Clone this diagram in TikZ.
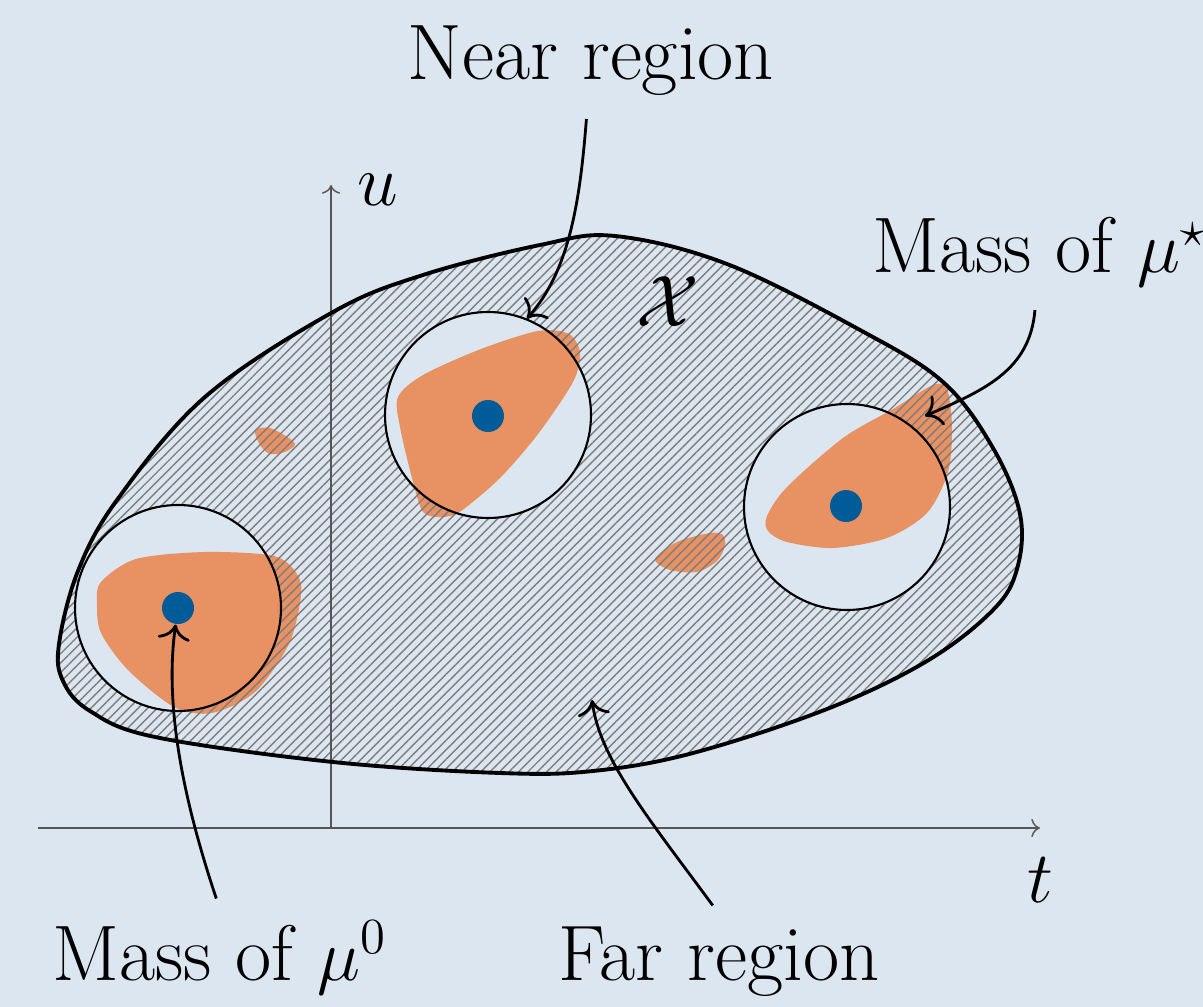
\documentclass[tikz,border=0pt]{standalone}
\usetikzlibrary{patterns.meta, arrows.meta}

\definecolor{bgblue}{RGB}{219,230,240}
\definecolor{massorange}{RGB}{232,145,98}
\definecolor{dotblue}{RGB}{0,91,153}
\definecolor{hatchgray}{RGB}{125,125,125}
\definecolor{axisgray}{RGB}{85,85,85}

% outline of the set X (pixel-like units)
\def\regionpath{plot[smooth cycle, tension=0.6] coordinates {(333,312) (423,275) (540,245) (615,236) (727,264) (860,330) (943,382) (993,448) (1020,514) (1017,569) (993,610) (927,661) (827,709) (693,753) (593,771) (500,773) (333,762) (155,737) (90,711) (63,681) (59,644) (78,571) (117,500) (205,397)}}

\begin{document}
\begin{tikzpicture}[x=0.1mm, y=-0.1mm,
    every node/.style={font=\fontsize{22.4}{27}\selectfont},
    ball/.style={circle, draw, semithick, minimum size=20.6mm, inner sep=0pt},
    dot/.style={circle, fill=dotblue, minimum size=3.2mm, inner sep=0pt},
    mass/.style={fill=massorange},
    annot/.style={thick, -{To[scale=1.3]}, shorten <=3pt},
    axis/.style={axisgray, thin, -{To}}]
    \useasboundingbox (0,0) rectangle (1203,1007);
    \fill[bgblue] (0,0) rectangle (1203,1007);

    % mass of the measures
    \fill[mass] plot[smooth cycle] coordinates {(398,397) (423,375) (481,349) (538,331) (569,334) (580,353) (573,382) (538,434) (500,478) (461,511) (442,517) (423,512) (412,478) (400,427)};
    \fill[mass] plot[smooth cycle] coordinates {(101,582) (136,559) (205,552) (274,556) (297,574) (301,596) (289,644) (255,692) (212,713) (174,707) (128,670) (101,633) (97,604)};
    \fill[mass] plot[smooth cycle] coordinates {(767,516) (787,487) (843,438) (893,409) (933,385) (947,389) (952,427) (948,472) (927,513) (887,538) (833,548) (787,542) (768,531)};
    \fill[mass] plot[smooth cycle] coordinates {(255,430) (270,428) (289,438) (295,445) (285,452) (270,454) (260,445)};
    \fill[mass] plot[smooth cycle] coordinates {(655,559) (677,542) (710,533) (723,535) (725,546) (717,561) (697,572) (670,570)};

    % far region: hatched, balls left out
    \fill[pattern={Lines[angle=45, distance=1.9pt, line width=0.4pt]}, pattern color=hatchgray, even odd rule]
        \regionpath (178,608) circle[radius=103] (488,415) circle[radius=103] (847,507) circle[radius=103];

    % axes
    \coordinate (origin) at (331,828);
    \coordinate (tend) at (1040,828);
    \coordinate (uend) at (331,185);
    \draw[axis] (38,828) -- (tend);
    \draw[axis] (origin) -- (uend);
    \node (ulabel) at (378,190) {$u$};
    \node (tlabel) at (1040,880) {$t$};

    \draw[line width=1.1pt] \regionpath;
    \node (xlabel) at (668,302) {$\mathcal{X}$};

    % near region balls and centers
    \node[ball] (ball0) at (178,608) {};
    \node[ball] (nearball) at (488,415) {};
    \node[ball] (ballstar) at (847,507) {};
    \node[dot] (c0) at (178,608) {};
    \node[dot] (c1) at (488,416) {};
    \node[dot] (c2) at (846,506) {};

    % labels
    \node[anchor=base] (near) at (591,80) {Near region};
    \node[anchor=base west] (mustar) at (860,273) {Mass of $\mu^\star$};
    \node[anchor=base west] (mu0) at (40,980) {Mass of $\mu^0$};
    \node[anchor=base] (far) at (719,980) {Far region};
    \coordinate (startip) at (925,416);
    \coordinate (fartip) at (592,700);

    \draw[annot] (near) .. controls (580,200) and (570,270) .. (nearball.68);
    \draw[annot] (mustar) .. controls (1030,370) and (985,390) .. (startip);
    \draw[annot] (mu0.north) .. controls (180,790) and (165,700) .. (c0);
    \draw[annot] (far.north) .. controls (650,820) and (600,760) .. (fartip);
\end{tikzpicture}
\end{document}
